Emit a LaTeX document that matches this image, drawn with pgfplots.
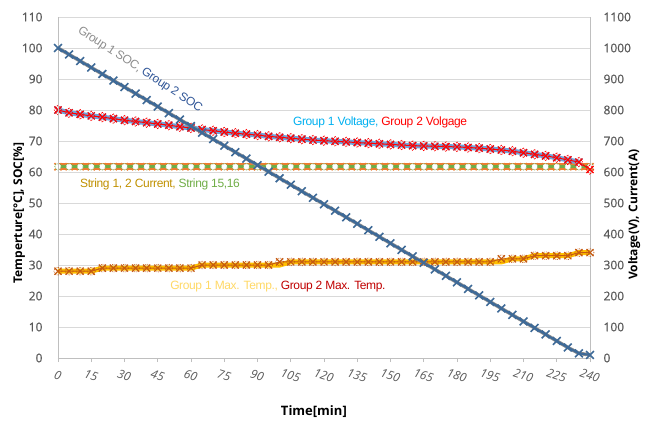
\documentclass[border=0pt]{standalone}
\usepackage{fontspec}
\setmainfont{Open Sans}
\newfontfamily\tickfont{Open Sans}[FakeBold=0.6]
\newfontfamily\annfont{Liberation Sans}[LetterSpace=-3]
\usepackage{pgfplots}
\usepackage{pgfplotstable}
\pgfplotsset{compat=1.18}
\definecolor{tickgray}{RGB}{89,89,89}
\definecolor{gridgray}{RGB}{217,217,217}
\definecolor{axgray}{RGB}{191,191,191}
\definecolor{socgray}{RGB}{140,140,140}
\definecolor{socblue}{RGB}{62,106,152}
\definecolor{socdark}{RGB}{47,85,151}
\definecolor{vblue}{RGB}{110,165,220}
\definecolor{vlabel}{RGB}{0,176,240}
\definecolor{vred}{RGB}{255,0,0}
\definecolor{iorange}{RGB}{237,125,49}
\definecolor{igreen}{RGB}{112,173,71}
\definecolor{ilabel}{RGB}{191,144,0}
\definecolor{tgold}{RGB}{255,192,0}
\definecolor{tlabel}{RGB}{255,217,102}
\definecolor{tbrown}{RGB}{197,90,17}
\definecolor{tred}{RGB}{192,0,0}

\pgfplotstableread{
t soc1 soc2 v1 v2 i1 i2 T1 T2
0 100 100 800 800 617 617 28 28
5 97.9 97.9 791 791 617 617 28 28
10 95.8 95.8 786 786 617 617 28 28
15 93.7 93.7 781 781 617 617 28 28
20 91.6 91.6 777 777 617 617 29 29
25 89.5 89.5 772 772 617 617 29 29
30 87.4 87.4 767 767 617 617 29 29
35 85.3 85.3 763 763 617 617 29 29
40 83.2 83.2 759 759 617 617 29 29
45 81.1 81.1 755 755 617 617 29 29
50 79.0 79.0 751 751 617 617 29 29
55 76.9 76.9 746 746 617 617 29 29
60 74.8 74.8 742 742 617 617 29 29
65 72.7 72.7 737 737 617 617 30 30
70 70.6 70.6 733 733 617 617 30 30
75 68.5 68.5 729 729 617 617 30 30
80 66.4 66.4 725 725 617 617 30 30
85 64.3 64.3 722 722 617 617 30 30
90 62.2 62.2 719 719 617 617 30 30
95 60.1 60.1 715 715 617 617 30 30
100 58.0 58.0 712 712 617 617 30 31
105 55.9 55.9 709 709 617 617 31 31
110 53.8 53.8 706 706 617 617 31 31
115 51.7 51.7 703 703 617 617 31 31
120 49.6 49.6 701 701 617 617 31 31
125 47.5 47.5 699 699 617 617 31 31
130 45.4 45.4 697 697 617 617 31 31
135 43.3 43.3 695 695 617 617 31 31
140 41.2 41.2 693 693 617 617 31 31
145 39.1 39.1 691 691 617 617 31 31
150 37.0 37.0 689 689 617 617 31 31
155 34.9 34.9 687 687 617 617 31 31
160 32.8 32.8 685 685 617 617 31 31
165 30.7 30.7 684 684 617 617 31 31
170 28.6 28.6 683 683 617 617 31 31
175 26.5 26.5 682 682 617 617 31 31
180 24.4 24.4 681 681 617 617 31 31
185 22.3 22.3 679 679 617 617 31 31
190 20.2 20.2 677 677 617 617 31 31
195 18.1 18.1 674 674 617 617 31 31
200 16.0 16.0 671 671 617 617 31 32
205 13.9 13.9 667 667 617 617 32 32
210 11.8 11.8 662 662 617 617 32 32
215 9.7 9.7 657 657 617 617 33 33
220 7.6 7.6 652 652 617 617 33 33
225 5.5 5.5 646 646 617 617 33 33
230 3.4 3.4 639 639 617 617 33 33
235 1.5 1.5 632 632 617 617 34 34
240 1.0 1.0 nan 608 617 617 34 34
}\data

\pgfplotsset{every axis/.append style={/pgf/number format/assume math mode=true, /pgf/number format/1000 sep={}}}

\begin{document}
\begin{tikzpicture}
\useasboundingbox (-58pt,-65pt) rectangle (589pt,358pt);
% right axis: voltage and current, with grid
\begin{axis}[
  scale only axis, width=532pt, height=341pt,
  xmin=0, xmax=240, ymin=0, ymax=1100,
  axis y line*=right, axis x line=none,
  xtick={0,15,...,240}, ytick={0,100,...,1100},
  grid=major, major grid style={gridgray, line width=0.6pt},
  y axis line style={axgray, line width=0.8pt},
  major tick length=0pt,
  yticklabel style={font=\tickfont\fontsize{12}{12}\selectfont, text=tickgray, xshift=10pt},
  ylabel={\bfseries Voltage(V), Current(A)},
  ylabel style={font=\fontsize{12}{12}\selectfont, at={(axis description cs:1.083,0.42)}, anchor=center},
  clip=false, unbounded coords=jump,
]
\addplot[iorange, line width=7pt, mark=x, mark size=5pt, mark options={line width=1.5pt}] table[x=t, y=i1] {\data};
\addplot[igreen, line width=3.5pt, mark=*, mark size=3.2pt, mark options={draw=igreen, fill=white, line width=0.8pt, densely dotted}] table[x=t, y=i2] {\data};
\addplot[vblue, line width=5pt, mark=x, mark size=5pt, mark options={line width=1.5pt, draw=vblue}] table[x=t, y=v1] {\data};
\addplot[vred, line width=1pt, mark=x, mark size=5pt, mark options={line width=1.2pt}] table[x=t, y=v2] {\data};
\addplot[only marks, mark=diamond, mark size=5pt, mark options={draw=vred, fill=none, line width=0.8pt, densely dotted}] table[x=t, y=v2] {\data};
\end{axis}
% left axis: temperature and SOC
\begin{axis}[
  scale only axis, width=532pt, height=341pt,
  xmin=0, xmax=240, ymin=0, ymax=110,
  axis x line*=bottom, axis y line*=left,
  xtick={0,15,...,240}, ytick={0,10,...,110},
  axis line style={axgray, line width=0.8pt},
  xtick style={axgray, line width=0.8pt}, ytick style={draw=none},
  tick align=outside, major tick length=4pt,
  yticklabel style={font=\tickfont\fontsize{12}{12}\selectfont, text=tickgray, xshift=-8pt},
  xticklabel style={font=\fontsize{12}{12}\selectfont\itshape, text=tickgray, rotate=-18, anchor=north, yshift=-5pt, xshift=4pt},
  xlabel={\bfseries Time[min]},
  xlabel style={font=\fontsize{13}{13}\selectfont, at={(axis description cs:0.481,-0.158)}, anchor=center},
  ylabel={\bfseries Temperture[\textdegree C], SOC[\%]},
  ylabel style={font=\fontsize{12}{12}\selectfont, at={(axis description cs:-0.073,0.425)}, anchor=center},
  clip=false,
]
\addplot[tgold, line width=5pt, mark=none] table[x=t, y=T1] {\data};
\addplot[tbrown, line width=1pt, mark=x, mark size=5pt, mark options={line width=1.2pt}] table[x=t, y=T2] {\data};
\addplot[only marks, mark=o, mark size=4pt, mark options={draw=tbrown, line width=0.7pt, densely dotted}] table[x=t, y=T2] {\data};
\addplot[socgray, line width=3.5pt, mark=none] table[x=t, y=soc1] {\data};
\addplot[socblue, line width=2pt, mark=x, mark size=5.5pt, mark options={line width=1.6pt}] table[x=t, y=soc2] {\data};
% annotations
\node[rotate=-33, font=\annfont\fontsize{12}{12}\selectfont] at (axis cs:37,93) {\textcolor{socgray}{Group 1 SOC,} \textcolor{socdark}{Group 2 SOC}};
\node[font=\annfont\fontsize{12}{12}\selectfont] at (axis cs:145.3,76.1) {\textcolor{vlabel}{Group 1 Voltage,} \textcolor{vred}{Group 2 Volgage}};
\node[font=\annfont\fontsize{12}{12}\selectfont] at (axis cs:46,56.1) {\textcolor{ilabel}{String 1, 2 Current,} \textcolor{igreen}{String 15,16}};
\node[fill=white, inner sep=2pt, font=\annfont\fontsize{12}{12}\selectfont] at (axis cs:99.2,23.2) {\textcolor{tlabel}{Group 1 Max. Temp.,} \textcolor{tred}{Group 2 Max. Temp.}};
\end{axis}
\end{tikzpicture}
\end{document}
